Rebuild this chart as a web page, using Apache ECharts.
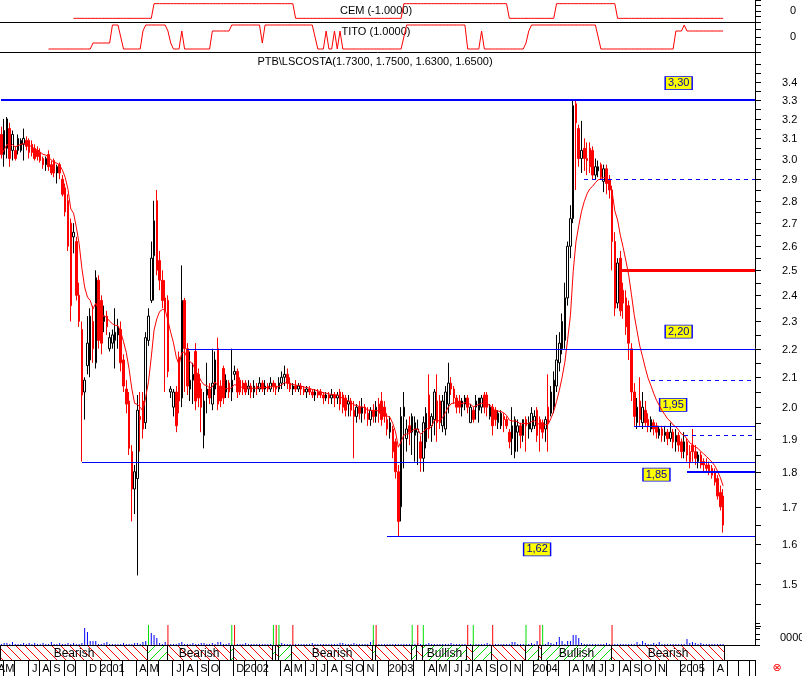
<!DOCTYPE html>
<html><head><meta charset="utf-8">
<script src="https://cdn.jsdelivr.net/npm/echarts@6/dist/echarts.min.js"></script>
<style>html,body{margin:0;padding:0;background:#fff}#c{width:802px;height:676px}</style>
</head><body><div id="c"></div>
<script>
// ---------------- DATA ----------------
const symbolName = 'PTB\\LSCOSTA';
const firstWeek = [2000, 3, 28];   // first weekly bar: 2000-04-28
const weekCount = 272;             // weekly slots on the time axis
const maPeriod = 10;               // exponential moving average length (weeks)

// weekly bars: [open, close, low, high]
const ohlc = [
[3.12,3.02,3.00,3.16],[3.02,3.14,2.96,3.20],[3.05,3.20,3.00,3.21],[3.15,3.00,2.96,3.18],[3.04,3.12,2.99,3.14],
[3.04,3.00,2.99,3.06],[3.04,3.10,3.02,3.12],[3.04,3.09,3.03,3.10],[3.07,3.10,2.99,3.15],[3.09,3.06,3.04,3.11],
[3.09,3.03,3.00,3.10],[3.07,3.03,3.01,3.09],[3.05,3.00,2.99,3.07],[3.04,3.01,2.99,3.06],[3.03,2.99,2.98,3.05],
[3.00,2.97,2.95,3.01],[2.97,3.00,2.94,3.01],[3.02,2.96,2.94,3.04],[2.97,2.93,2.92,2.99],[2.99,2.93,2.91,3.00],
[2.93,2.96,2.88,2.97],[2.97,2.93,2.90,2.98],[2.90,2.83,2.82,2.92],[2.86,2.75,2.73,2.88],[2.80,2.60,2.58,2.83],
[2.70,2.36,2.30,2.72],[2.64,2.66,2.57,2.70],[2.62,2.40,2.38,2.64],[2.40,2.30,2.28,2.45],[2.27,2.04,1.83,2.30],
[2.05,2.09,1.96,2.10],[2.14,2.22,2.11,2.32],[2.16,2.32,2.10,2.35],[2.30,2.20,2.15,2.36],[2.15,2.47,2.13,2.50],
[2.46,2.23,2.20,2.48],[2.38,2.22,2.18,2.40],[2.30,2.32,2.26,2.36],[2.32,2.28,2.25,2.34],[2.20,2.24,2.19,2.26],
[2.22,2.25,2.20,2.27],[2.23,2.26,2.13,2.35],[2.25,2.28,2.20,2.31],[2.27,2.15,2.12,2.30],[2.16,2.07,2.05,2.18],
[2.06,2.01,1.98,2.09],[2.02,1.87,1.85,2.05],[1.86,1.75,1.66,1.88],[1.75,1.80,1.68,1.82],[1.78,1.99,1.52,2.04],
[1.97,1.96,1.86,2.05],[2.02,1.93,1.90,2.05],[1.95,2.24,1.93,2.26],[2.23,2.32,2.21,2.35],[2.38,2.55,2.37,2.62],
[2.56,2.71,2.38,2.80],[2.80,2.50,2.48,2.85],[2.54,2.46,2.42,2.58],[2.46,2.38,2.35,2.50],[2.39,2.34,2.05,2.46],
[2.38,2.12,2.10,2.40],[2.05,2.06,2.03,2.07],[2.00,2.05,1.97,2.06],[2.05,1.94,1.92,2.07],[2.17,2.02,1.98,2.19],
[2.03,2.38,2.00,2.52],[2.38,2.20,2.05,2.39],[2.20,2.07,2.04,2.22],[2.06,2.09,2.02,2.19],[2.09,2.11,2.01,2.15],
[2.19,2.02,1.99,2.22],[2.11,2.03,2.00,2.13],[2.06,2.00,1.92,2.08],[1.91,2.02,1.87,2.05],[2.04,2.06,1.98,2.15],
[2.06,2.03,2.01,2.08],[2.01,2.08,1.99,2.20],[2.06,2.16,2.04,2.19],[2.20,2.01,1.99,2.24],[2.07,2.02,2.00,2.09],
[2.13,2.03,2.01,2.14],[2.05,2.09,2.03,2.11],[2.08,2.05,2.03,2.09],[2.05,2.09,2.02,2.20],[2.11,2.12,2.09,2.14],
[2.12,2.05,2.03,2.13],[2.09,2.05,2.04,2.10],[2.08,2.06,2.04,2.09],[2.08,2.05,2.04,2.09],[2.06,2.07,2.04,2.09],
[2.07,2.05,2.03,2.08],[2.05,2.07,2.03,2.09],[2.07,2.06,2.04,2.08],[2.06,2.08,2.05,2.10],[2.08,2.06,2.05,2.09],
[2.06,2.07,2.04,2.09],[2.07,2.06,2.05,2.08],[2.06,2.08,2.05,2.10],[2.08,2.07,2.05,2.09],[2.07,2.06,2.04,2.08],
[2.06,2.08,2.05,2.10],[2.08,2.10,2.06,2.12],[2.10,2.11,2.07,2.14],[2.11,2.08,2.06,2.13],[2.08,2.06,2.05,2.10],
[2.06,2.07,2.04,2.08],[2.07,2.06,2.05,2.09],[2.06,2.07,2.05,2.08],[2.07,2.06,2.04,2.08],[2.06,2.05,2.04,2.07],
[2.05,2.06,2.03,2.07],[2.06,2.05,2.04,2.07],[2.05,2.04,2.03,2.06],[2.04,2.05,2.02,2.06],[2.05,2.04,2.03,2.06],
[2.05,2.04,2.03,2.06],[2.04,2.03,2.01,2.05],[2.03,2.04,2.02,2.05],[2.04,2.03,2.01,2.05],[2.03,2.04,2.01,2.06],
[2.04,2.03,2.00,2.05],[2.03,2.04,2.01,2.05],[2.05,2.01,1.99,2.06],[2.04,2.00,1.98,2.05],[2.03,1.99,1.97,2.04],
[2.01,2.02,1.97,2.04],[2.02,1.99,1.97,2.03],[1.99,1.97,1.84,2.02],[1.97,2.00,1.95,2.01],[2.00,1.98,1.96,2.02],
[1.98,2.00,1.95,2.03],[2.00,1.98,1.96,2.01],[1.98,1.96,1.94,2.00],[1.96,1.99,1.94,2.00],[1.99,1.97,1.95,2.01],
[1.97,2.00,1.95,2.02],[2.01,1.98,1.95,2.03],[2.02,1.96,1.94,2.05],[2.00,1.97,1.95,2.02],[1.96,1.93,1.91,1.98],
[1.92,1.95,1.90,1.97],[1.93,1.86,1.84,1.94],[1.89,1.80,1.78,1.90],[1.80,1.66,1.62,1.82],[1.70,1.97,1.66,2.00],
[1.97,2.00,1.81,2.05],[1.90,1.93,1.86,1.96],[1.94,1.92,1.88,1.97],[1.92,1.97,1.85,1.98],[1.91,1.95,1.83,1.97],
[1.92,1.93,1.82,1.96],[1.89,1.84,1.80,1.91],[1.84,1.95,1.80,1.97],[1.89,1.98,1.87,2.00],[2.04,1.93,1.90,2.11],
[1.94,1.97,1.89,1.98],[1.96,2.05,1.91,2.06],[2.02,1.95,1.89,2.11],[2.02,1.95,1.93,2.04],[1.94,2.02,1.92,2.04],
[1.93,2.05,1.91,2.07],[2.01,2.08,1.98,2.15],[2.08,2.06,2.04,2.10],[2.06,2.03,2.01,2.07],[2.03,2.00,1.98,2.04],
[2.02,2.00,1.98,2.04],[2.00,2.02,1.97,2.03],[2.01,2.03,1.99,2.04],[2.03,2.00,1.98,2.04],[1.95,2.00,1.95,2.01],
[1.99,1.96,1.95,2.00],[2.00,2.02,1.96,2.04],[1.99,2.03,1.95,2.03],[2.00,2.03,1.98,2.04],[2.04,2.00,1.98,2.05],
[2.04,2.00,1.97,2.05],[1.97,2.00,1.96,2.01],[2.00,1.94,1.91,2.01],[1.99,1.96,1.94,2.00],[1.95,1.98,1.93,1.99],
[1.94,1.98,1.93,1.99],[1.97,1.96,1.92,1.98],[1.96,1.94,1.93,1.97],[1.92,1.89,1.87,1.93],[1.90,1.94,1.85,2.00],
[1.86,1.96,1.84,1.97],[1.92,1.94,1.86,1.96],[1.94,1.91,1.87,1.95],[1.91,1.96,1.89,1.96],[1.96,1.94,1.86,1.97],
[1.93,1.95,1.90,1.97],[1.93,1.98,1.92,2.00],[1.94,1.97,1.93,1.99],[1.99,1.91,1.89,2.00],[1.96,1.93,1.86,1.97],
[1.95,1.92,1.90,1.96],[1.93,1.96,1.89,1.97],[2.00,1.95,1.86,2.11],[1.98,2.05,1.97,2.07],[2.00,2.09,1.98,2.12],
[2.07,2.16,2.05,2.25],[2.15,2.22,2.12,2.26],[2.20,2.30,2.18,2.33],[2.23,2.39,2.20,2.45],[2.39,2.60,2.36,2.62],
[2.60,2.72,2.55,2.78],[2.72,3.27,2.70,3.30],[3.28,3.18,2.85,3.30],[3.15,3.00,2.96,3.17],[3.00,3.04,2.93,3.19],
[3.05,3.00,2.94,3.10],[3.00,2.99,2.92,3.08],[3.05,2.96,2.93,3.08],[3.04,2.92,2.90,3.06],[2.92,2.96,2.90,3.00],
[2.94,2.96,2.91,2.99],[2.97,2.91,2.90,2.98],[2.89,2.95,2.84,2.97],[2.95,2.88,2.83,2.97],[2.90,2.85,2.81,2.92],
[2.85,2.62,2.50,2.87],[2.62,2.35,2.32,2.66],[2.37,2.53,2.35,2.55],[2.55,2.34,2.32,2.58],[2.42,2.37,2.31,2.45],
[2.39,2.28,2.25,2.42],[2.36,2.22,2.16,2.38],[2.20,2.05,2.02,2.22],[2.05,1.97,1.94,2.08],[1.95,2.00,1.93,2.03],
[2.02,1.96,1.94,2.10],[1.95,2.00,1.93,2.05],[1.99,1.95,1.94,2.02],[1.96,1.94,1.92,1.98],[1.93,1.96,1.92,1.97],
[1.95,1.93,1.91,1.96],[1.94,1.92,1.90,1.95],[1.91,1.93,1.90,1.94],[1.93,1.91,1.89,1.94],[1.91,1.92,1.89,1.94],
[1.92,1.90,1.88,1.93],[1.90,1.92,1.89,1.95],[1.92,1.89,1.87,1.93],[1.89,1.91,1.86,1.93],[1.91,1.88,1.86,1.92],
[1.89,1.86,1.84,1.90],[1.86,1.89,1.84,1.92],[1.89,1.85,1.83,1.90],[1.86,1.83,1.81,1.88],[1.88,1.86,1.83,1.93],
[1.86,1.84,1.82,1.88],[1.83,1.85,1.81,1.86],[1.85,1.82,1.81,1.86],[1.83,1.82,1.80,1.84],[1.82,1.81,1.80,1.84],
[1.82,1.80,1.79,1.83],[1.81,1.79,1.78,1.82],[1.80,1.77,1.76,1.81],[1.78,1.73,1.72,1.79],[1.74,1.70,1.69,1.76],
[1.73,1.65,1.63,1.75]
];

// weekly volume (panel units)
const volume = [
1,2,2,1,3,1,1,1,2,1, 2,1,2,1,1,2,1,1,3,1, 1,2,1,1,2,1,2,1,1,2, 17,13,4,4,4,1,1,2,3,1,
1,1,1,1,2,1,1,1,2,2, 1,3,4,3,12,10,7,2,1,3, 1,1,1,1,2,3,1,1,1,2, 1,1,2,2,1,1,2,1,3,3,
1,1,2,1,1,1,1,1,2,1, 1,1,1,1,1,1,1,1,2,1, 1,2,1,1,1,1,1,1,1,1, 1,1,2,1,1,1,1,1,1,1,
1,1,2,2,1,1,1,2,1,1, 1,1,1,3,5,1,1,1,1,1, 1,1,1,1,1,1,1,1,1,1, 2,1,1,1,2,1,1,1,1,1,
1,1,2,1,1,1,1,1,1,1, 1,1,1,1,1,2,1,1,1,1, 1,1,1,1,3,3,1,1,1,1, 1,2,1,4,1,1,1,3,2,1,
3,8,4,1,4,4,10,10,7,2, 1,1,1,1,1,1,1,1,2,1, 1,1,1,1,1,1,1,1,1,3, 1,4,2,1,1,2,1,3,1,1,
1,1,1,1,1,1,1,6,2,3, 2,1,2,1,1,1,1,1,1,1,1
];

// indicator panels, as [value, number of weeks] runs
const cemRuns  = [[null,26],[-1,29],[1,51],[-1,39],[1,38],[-1,17],[1,22],[-1,39]];
const titoRuns = [[null,17],[-2,16],[-1,7],[2,3],[0,1],[-2,7],[1,1],[2,8],[1,1],[-1,1],[-2,3],[1,1],[-2,10],[1,7],
  [2,11],[-1,1],[2,18],[0,1],[-2,3],[1,1],[-2,2],[1,1],[-2,1],[1,1],[-2,22],[0,1],[2,22],[-2,5],[1,1],[-2,15],
  [-1,1],[1,1],[2,24],[0,1],[-2,27],[1,3],[2,1],[1,14]];

// trend band: [first week, end week, state]
const trendSegments = [[0,53,'bear'],[53,60,'bull'],[60,83,'bear'],[83,84,'bull'],[84,98,'bear'],[98,99,'bull'],
  [99,100,'bear'],[100,105,'bull'],[105,134,'bear'],[134,135,'bull'],[135,148,'bear'],[148,150,'bull'],
  [150,152,'bear'],[152,168,'bull'],[168,170,'bear'],[170,177,'bull'],[177,189,'bear'],[189,194,'bull'],
  [194,195,'bear'],[195,220,'bull'],[220,261,'bear']];
const trendNames = {bear:'Bearish', bull:'Bullish'};

// horizontal levels: price and the week they start from
const levelPrices = [3.30, 2.90, 2.50, 2.20, 2.09, 1.94, 1.91, 1.83, 1.80, 1.62];
const levelStart  = [0, 210, 223, 67, 234, 228, 246, 29, 247, 139];

// price notes
const noteTexts  = ['3,30','2,20','1,95','1,85','1,62'];
const notePrices = [3.30, 2.20, 1.94, 1.83, 1.62];

// price axis ticks
const priceTicks = [1.40,1.45,1.50,1.55,1.60,1.65,1.70,1.75,1.80,1.85,1.90,1.95,2.00,2.05,2.10,2.15,2.20,2.25,
  2.30,2.35,2.40,2.45,2.50,2.55,2.60,2.65,2.70,2.75,2.80,2.85,2.90,2.95,3.00,3.05,3.10,3.15,3.20,3.25,3.30,
  3.35,3.40,3.45,3.50];
const priceTickLabels = ['1.5','1.6','1.7','1.8','1.9','2.0','2.1','2.2','2.3','2.4','2.5','2.6','2.7','2.8',
  '2.9','3.0','3.1','3.2','3.3','3.4'];

// month labels Apr 2000 .. Jun 2005 ('' = not printed)
const monthLabels = ['A','M','','J','A','S','O','','D',
  '2001','','','A','M','','J','A','S','O','','D',
  '2002','','','A','M','J','J','A','S','O','N','',
  '2003','','','A','M','J','J','A','S','O','N','',
  '2004','','','A','M','J','J','A','S','O','N','',
  '2005','','','A','M',''];

// ---------------- BUILD ----------------
const FAMILY = "'Liberation Sans', Arial, sans-serif";
const FONT = "11px " + FAMILY;
const cats = [];
const base = Date.UTC(firstWeek[0], firstWeek[1], firstWeek[2]);
for (let i = 0; i < weekCount; i++) cats.push(new Date(base + i * 7 * 86400000).toISOString().slice(0, 10));

function expand(runs) { const out = []; runs.forEach(([v, n]) => { for (let k = 0; k < n; k++) out.push(v); }); return out; }
const cem = expand(cemRuns), tito = expand(titoRuns);

// exponential moving average of the weekly closes
const closes = ohlc.map(d => d[1]);
const alpha = 2 / (maPeriod + 1);
const ma = []; closes.forEach((c, i) => ma.push(+(i === 0 ? c : ma[i - 1] + alpha * (c - ma[i - 1])).toFixed(4)));

// month ticks / labels
const monthIdx = {}; const monthOrder = [];
cats.forEach((c, i) => { const k = c.slice(0, 7); if (!monthIdx[k]) { monthIdx[k] = [i, i]; monthOrder.push(k); } else monthIdx[k][1] = i; });
const tickSet = new Set(); const labelAt = {};
monthOrder.forEach((k, m) => {
  const [f, l] = monthIdx[k];
  if (f > 0) tickSet.add(f);
  const t = monthLabels[m];
  if (!t) return;
  const idx = k.endsWith('-01') ? f + 4 : Math.floor((f + l + 1) / 2);
  labelAt[idx] = t;
});

// hatch patterns
function hatch(color, back) {
  const c = document.createElement('canvas'); c.width = 9; c.height = 9;
  const g = c.getContext('2d'); g.fillStyle = '#fff'; g.fillRect(0, 0, 9, 9); g.fillStyle = color;
  for (let k = 0; k < 9; k++) g.fillRect(back ? k : 8 - k, k, 1, 1);
  return c;
}
const bearPat = { image: hatch('#ff0000', true), repeat: 'repeat' };
const bullPat = { image: hatch('#00e000', false), repeat: 'repeat' };

const signals = new Array(weekCount).fill(null);
trendSegments.forEach((s, k) => { if (k > 0) signals[s[0]] = { value: 20, itemStyle: { color: s[2] === 'bull' ? '#00e000' : '#ff0000' } }; });

const levelStyles = [
  { color: '#0000ff', width: 2, dash: null },
  { color: '#0000ff', width: 1, dash: [4, 4] },
  { color: '#ff0000', width: 3, dash: null },
  { color: '#0000ff', width: 1, dash: null },
  { color: '#0000ff', width: 1, dash: [4, 4] },
  { color: '#0000ff', width: 1, dash: null },
  { color: '#0000ff', width: 1, dash: [4, 4] },
  { color: '#0000ff', width: 1, dash: null },
  { color: '#0000ff', width: 2, dash: null },
  { color: '#0000ff', width: 1, dash: null }
];
const noteLayout = [[244, -17], [244, -17], [242, -21], [236, 13], [193, 13]];

const last = ohlc[ohlc.length - 1];
const f4 = v => v.toFixed(4);
const mainTitle = `${symbolName}(${f4(last[0])}, ${f4(last[3])}, ${f4(last[2])}, ${f4(last[1])})`;
const cemTitle = `CEM (${f4(cem[cem.length - 1])})`;
const titoTitle = `TITO (${f4(tito[tito.length - 1])})`;

const gridDefs = [[0, 22], [22, 30], [52, 593], [623, 22], [645, 15]];
const grid = gridDefs.map(([t, h]) => ({ left: 0, right: 47, top: t, height: h, containLabel: false, outerBoundsMode: 'none', show: false }));

const blackLine = { show: true, onZero: false, lineStyle: { color: '#000', width: 1 } };
const xAxis = gridDefs.map((g, k) => ({
  type: 'category', gridIndex: k, data: cats, boundaryGap: true,
  axisLine: (k === 2) ? { show: false } : blackLine,
  axisTick: { show: false }, axisLabel: { show: false }, splitLine: { show: false }
}));
xAxis[4].axisTick = { show: true, length: 16, interval: (i) => tickSet.has(i), lineStyle: { color: '#000', width: 1 } };
xAxis[4].axisLabel = { show: true, interval: (i) => labelAt[i] !== undefined, formatter: (v, i) => labelAt[i] || '',
  color: '#000', fontSize: 11, fontFamily: FAMILY, margin: 3, showMinLabel: true, showMaxLabel: false, hideOverlap: false };

const panelAxis = (k, mn, mx, iv) => ({
  type: 'value', gridIndex: k, position: 'right', min: mn, max: mx, interval: iv,
  axisLine: { show: true, lineStyle: { color: '#000' } },
  axisTick: { show: true, length: 6, lineStyle: { color: '#000' } },
  axisLabel: { show: true, margin: 35, color: '#000', fontSize: 11, fontFamily: FAMILY, formatter: v => (v === 0 ? '0' : '') },
  splitLine: { show: false }
});
const yAxis = [
  panelAxis(0, -1.5, 1.5, 0.75),
  panelAxis(1, -2.5, 2.5, 1.25),
  { type: 'log', logBase: 10, gridIndex: 2, position: 'right', min: 1.357, max: 3.569,
    axisLine: { show: true, lineStyle: { color: '#000' } }, axisTick: { show: false }, axisLabel: { show: false }, splitLine: { show: false } },
  { type: 'value', gridIndex: 3, position: 'right', min: 0, max: 22, interval: 5.5,
    axisLine: { show: false }, axisTick: { show: true, length: 5, lineStyle: { color: '#000' } }, axisLabel: { show: false }, splitLine: { show: false } },
  { type: 'value', gridIndex: 4, min: 0, max: 1, show: false }
];

const series = [
  { type: 'line', xAxisIndex: 0, yAxisIndex: 0, data: cem, symbol: 'none', lineStyle: { color: '#ff0000', width: 1 }, silent: true },
  { type: 'line', xAxisIndex: 1, yAxisIndex: 1, data: tito, symbol: 'none', lineStyle: { color: '#ff0000', width: 1 }, silent: true },
  { type: 'candlestick', xAxisIndex: 2, yAxisIndex: 2, data: ohlc, barWidth: 2, silent: true,
    itemStyle: { color: '#ffffff', color0: '#ff0000', borderColor: '#000000', borderColor0: '#ff0000', borderWidth: 1 },
    markPoint: { silent: true, animation: false,
      data: noteTexts.map((t, i) => ({
        coord: [cats[noteLayout[i][0]], notePrices[i]], symbol: 'rect', symbolSize: [27, 13], symbolOffset: [0, noteLayout[i][1]],
        itemStyle: { color: '#ffff00', borderColor: '#0000ff', borderWidth: 1 },
        label: { show: true, position: 'inside', formatter: t, color: '#0000a0', fontSize: 11, fontFamily: FAMILY }
      })) }
  },
  { type: 'line', xAxisIndex: 2, yAxisIndex: 2, data: ma, symbol: 'none', lineStyle: { color: '#ff0000', width: 1 }, z: 5, silent: true },
  // level lines, snapped to whole pixels
  { type: 'custom', xAxisIndex: 2, yAxisIndex: 2, silent: true, clip: false, z: 6,
    data: levelPrices.map((p, i) => [levelStart[i], p, i]),
    renderItem(params, api) {
      const st = levelStyles[api.value(2)];
      const pt = api.coord([api.value(0), api.value(1)]);
      const cs = params.coordSys;
      let y = Math.round(pt[1]); if (st.width % 2 === 1) y += 0.5;
      return { type: 'line', shape: { x1: Math.round(pt[0]), y1: y, x2: cs.x + cs.width, y2: y },
        style: { stroke: st.color, lineWidth: st.width, lineDash: st.dash } };
    } },
  { type: 'custom', xAxisIndex: 2, yAxisIndex: 2, clip: false, silent: true, z: 10,
    data: priceTicks.map(v => [0, v]),
    renderItem(params, api) {
      const v = api.value(1);
      const y = Math.round(api.coord([0, v])[1]) + 0.5;
      const cs = params.coordSys; const x = cs.x + cs.width;
      const lab = priceTickLabels.find(s => Math.abs(parseFloat(s) - v) < 1e-6);
      const ch = [{ type: 'line', shape: { x1: x, y1: y, x2: x + 6, y2: y }, style: { stroke: '#000', lineWidth: 1 } }];
      if (lab) ch.push({ type: 'text', x: x + 27, y: y, style: { text: lab, fill: '#000', font: FONT, align: 'left', verticalAlign: 'middle' } });
      return { type: 'group', children: ch };
    } },
  { type: 'bar', xAxisIndex: 3, yAxisIndex: 3, data: volume, barWidth: 1, itemStyle: { color: '#0000ff' }, silent: true },
  { type: 'bar', xAxisIndex: 3, yAxisIndex: 3, data: signals, barWidth: 1, barGap: '-100%', silent: true },
  { type: 'custom', xAxisIndex: 4, yAxisIndex: 4, silent: true, clip: false,
    data: trendSegments.map(s => [s[0], s[1], s[2] === 'bull' ? 1 : 0]),
    renderItem(params, api) {
      const s = api.value(0), e = api.value(1), bull = api.value(2);
      const bw = api.size([1, 0])[0];
      const x0 = Math.round(api.coord([s, 0])[0] - bw / 2) + 0.5;
      const x1 = Math.round(api.coord([e, 0])[0] - bw / 2) + 0.5;
      const cs = params.coordSys;
      const ch = [{ type: 'rect', shape: { x: x0, y: cs.y + 0.5, width: x1 - x0, height: cs.height },
        style: { fill: bull ? bullPat : bearPat, stroke: '#000', lineWidth: 1 } }];
      if (e - s >= 16) ch.push({ type: 'text', x: (x0 + x1) / 2, y: cs.y + cs.height / 2 + 1,
        style: { text: trendNames[bull ? 'bull' : 'bear'], fill: '#000', font: "12px " + FAMILY, align: 'center', verticalAlign: 'middle' } });
      return { type: 'group', children: ch };
    } }
];

const textStyle = (t, x, y) => ({ type: 'text', x, y, silent: true, style: { text: t, fill: '#000', font: FONT, align: 'center', verticalAlign: 'middle' } });
const graphic = [
  textStyle(cemTitle, 376, 11),
  textStyle(titoTitle, 376, 32),
  textStyle(mainTitle, 375, 62),
  { type: 'text', x: 780, y: 638, silent: true, style: { text: '0000', fill: '#000', font: FONT, align: 'left', verticalAlign: 'middle' } },
  { type: 'text', x: 777, y: 668, silent: true, style: { text: '⊗', fill: '#ff0000', font: "11px 'DejaVu Sans', sans-serif", align: 'center', verticalAlign: 'middle' } }
];

const chart = echarts.init(document.getElementById('c'), null, { renderer: 'canvas' });
chart.setOption({ animation: false, backgroundColor: '#ffffff', grid, xAxis, yAxis, series, graphic });
</script></body></html>
